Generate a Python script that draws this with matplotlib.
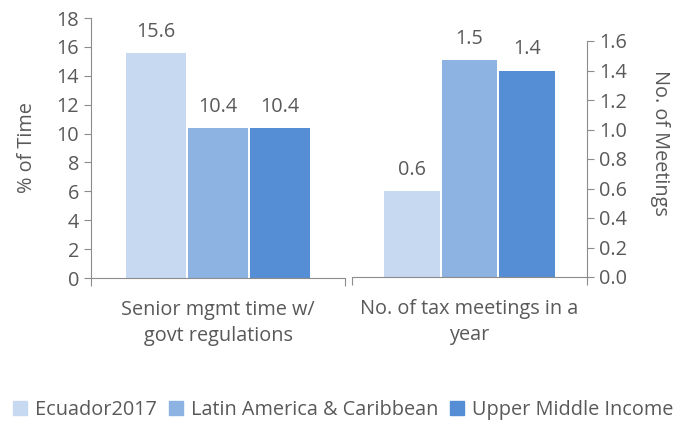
import matplotlib
matplotlib.use("Agg")
import matplotlib.pyplot as plt
from matplotlib.patches import Patch

plt.rcParams['font.family'] = ['Open Sans', 'DejaVu Sans']

series = ["Ecuador2017", "Latin America & Caribbean", "Upper Middle Income"]
colors = ["#C6D9F0", "#8DB3E2", "#558ED5"]

left_cat = "Senior mgmt time w/\ngovt regulations"
left_vals = [15.6, 10.4, 10.4]

right_cat = "No. of tax meetings in a\nyear"
right_vals = [0.58, 1.47, 1.40]

TXT = "#595959"
GRID = "#8c8c8c"
FS = 14.3

fig = plt.figure(figsize=(6.87, 4.22), dpi=100)
ax1 = fig.add_axes([91/687, 1-278/422, 254/687, 260/422])
ax2 = fig.add_axes([352/687, 1-277/422, 235/687, 236/422])

offs = [-0.245, 0, 0.245]
w = 0.236

def style(ax, side):
    for s in ax.spines.values():
        s.set_visible(False)
    ax.spines['bottom'].set_visible(True)
    ax.spines['bottom'].set_color(GRID)
    ax.spines[side].set_visible(True)
    ax.spines[side].set_color(GRID)
    ax.set_xlim(-0.5, 0.5)
    ax.set_xticks([-0.5, 0.5])
    ax.set_xticklabels(["", ""])
    ax.tick_params(axis='x', length=6, color=GRID, direction='out')
    ax.tick_params(axis='y', length=5, color=GRID, labelcolor=TXT, labelsize=FS)

for i in range(3):
    ax1.bar(offs[i], left_vals[i], width=w, color=colors[i])
    ax1.annotate(f"{left_vals[i]:.1f}", (offs[i], left_vals[i]), xytext=(0, 8),
                 textcoords='offset points', ha='center', va='bottom', color=TXT, fontsize=FS)
    ax2.bar(offs[i], right_vals[i], width=w, color=colors[i])
    ax2.annotate(f"{right_vals[i]:.1f}", (offs[i], right_vals[i]), xytext=(0, 8),
                 textcoords='offset points', ha='center', va='bottom', color=TXT, fontsize=FS)

style(ax1, 'left')
ax1.set_ylim(0, 18)
ax1.set_yticks(range(0, 19, 2))
ax1.set_ylabel("% of Time", color=TXT, fontsize=FS, labelpad=14)
ax1.text(0.5, -0.085, left_cat, transform=ax1.transAxes, ha='center', va='top',
         color=TXT, fontsize=FS, linespacing=1.4)

style(ax2, 'right')
ax2.yaxis.tick_right()
ax2.yaxis.set_label_position('right')
ax2.set_ylim(0, 1.6)
ax2.set_yticks([i * 0.2 for i in range(9)])
ax2.set_yticklabels([f"{i * 0.2:.1f}" for i in range(9)])
ax2.set_ylabel("No. of Meetings", color=TXT, fontsize=FS, rotation=-90, va='center')
ax2.yaxis.set_label_coords(1.31, 0.57)
ax2.text(0.5, -0.095, right_cat, transform=ax2.transAxes, ha='center', va='top',
         color=TXT, fontsize=FS, linespacing=1.4)

handles = [Patch(color=c, label=s) for c, s in zip(colors, series)]
fig.legend(handles=handles, loc='center', bbox_to_anchor=(0.5, 1-410/422), ncol=3,
           frameon=False, fontsize=FS, handlelength=0.7, handleheight=0.7,
           handletextpad=0.4, columnspacing=0.6, labelcolor=TXT)

fig.savefig("out.png", dpi=100)
